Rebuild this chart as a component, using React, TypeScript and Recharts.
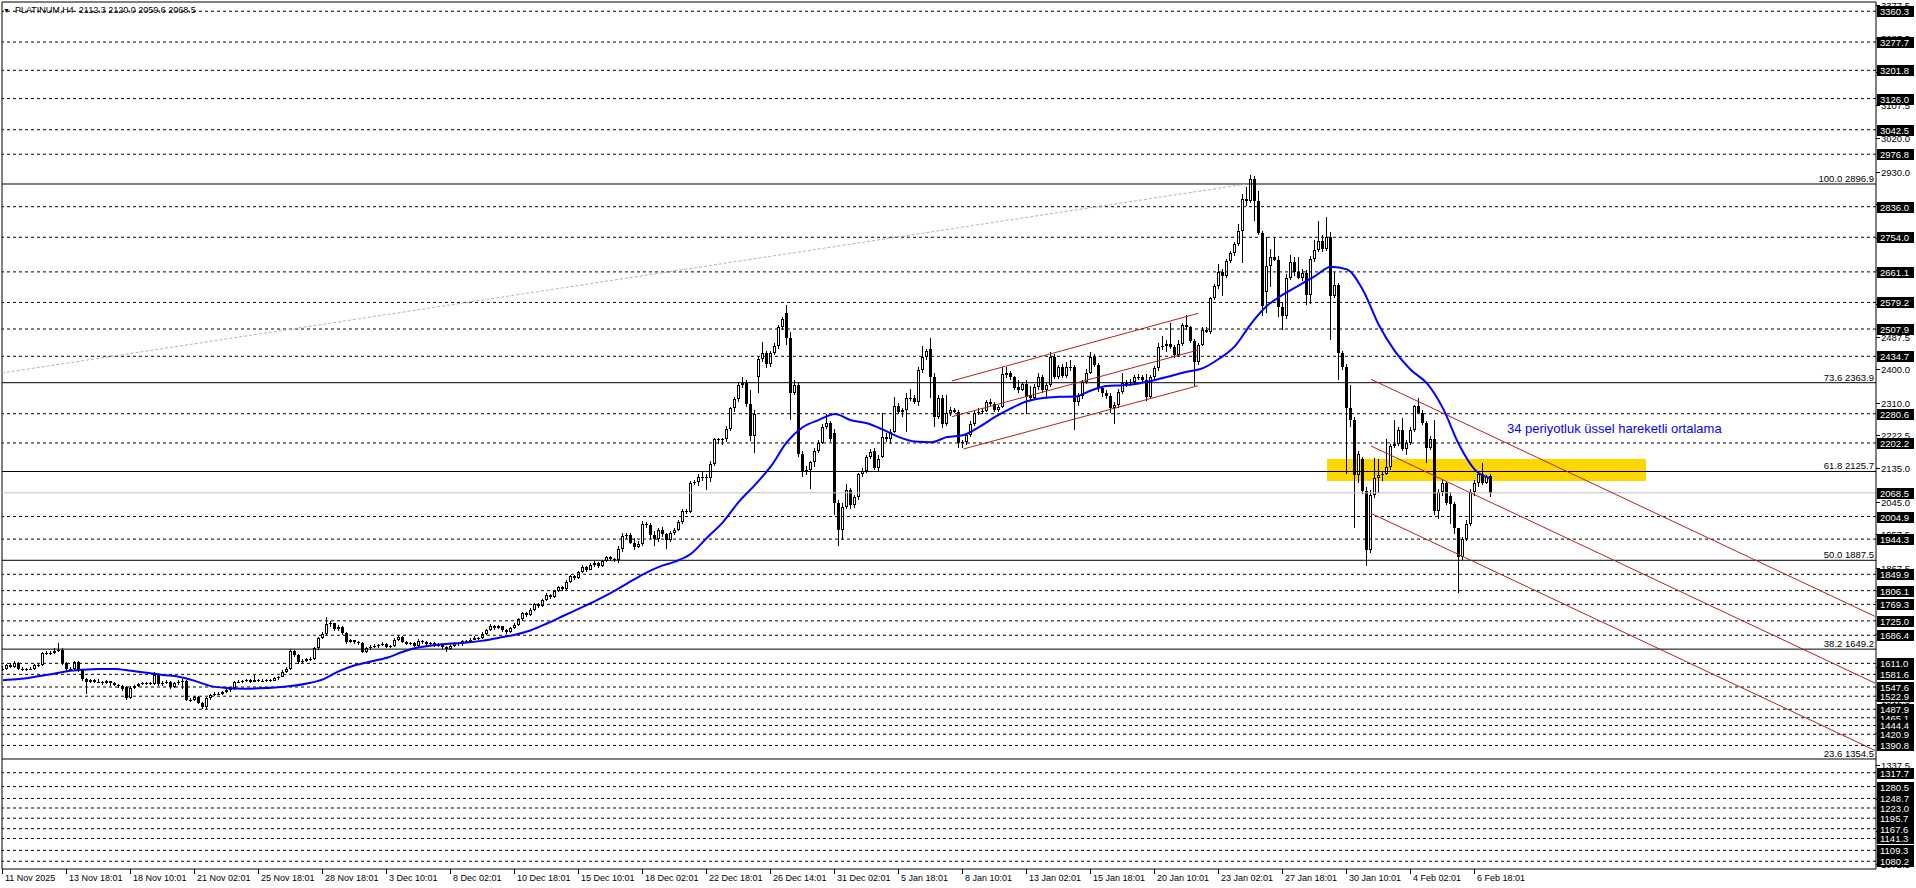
import React from "react";
import {
  ComposedChart,
  Bar,
  Line,
  XAxis,
  YAxis,
  ReferenceLine,
  ReferenceArea
} from "recharts";

const FONT = '"Liberation Sans", Arial, sans-serif';

// H4 candles [open, high, low, close], one per bar
const candlesNov = [
  [1594, 1603, 1590, 1597], [1597, 1610, 1595, 1606], [1606, 1612, 1598, 1602], [1602, 1618, 1600, 1613], [1613, 1615, 1594, 1597], // 0
  [1597, 1600, 1588, 1593], [1593, 1599, 1590, 1595], [1595, 1600, 1591, 1596], [1596, 1609, 1594, 1606], [1606, 1610, 1601, 1606], // 5
  [1606, 1642, 1604, 1638], [1638, 1644, 1633, 1638], [1638, 1645, 1634, 1640], [1640, 1652, 1637, 1644], [1644, 1665, 1640, 1648], // 10
  [1648, 1652, 1606, 1611], [1611, 1616, 1590, 1595], [1595, 1601, 1591, 1597], [1597, 1618, 1594, 1615], [1615, 1618, 1589, 1593], // 15
  [1593, 1596, 1564, 1568], [1568, 1572, 1530, 1562], [1562, 1570, 1558, 1566], [1566, 1569, 1558, 1562], [1562, 1568, 1557, 1562], // 20
  [1562, 1565, 1555, 1559], [1559, 1567, 1556, 1563], [1563, 1565, 1552, 1557], [1557, 1560, 1549, 1553], [1553, 1556, 1546, 1550], // 25
  [1550, 1553, 1538, 1541], [1548, 1551, 1514, 1517], [1517, 1550, 1515, 1546], [1546, 1553, 1543, 1550], [1550, 1558, 1547, 1555], // 30
  [1555, 1560, 1552, 1557], [1557, 1561, 1553, 1557], [1557, 1562, 1554, 1559], [1556, 1588, 1554, 1580], [1580, 1583, 1550, 1555], // 35
  [1555, 1563, 1550, 1559], [1559, 1566, 1556, 1562], [1562, 1565, 1544, 1548], [1548, 1562, 1546, 1559], [1559, 1566, 1552, 1562], // 40
  [1562, 1568, 1540, 1564], [1564, 1567, 1510, 1514], [1514, 1519, 1509, 1514], [1514, 1524, 1511, 1520], [1520, 1523, 1502, 1505], // 45
  [1505, 1507, 1489, 1493], [1493, 1520, 1489, 1517], [1517, 1529, 1514, 1526], [1526, 1533, 1522, 1530], [1530, 1534, 1525, 1530], // 50
  [1530, 1538, 1527, 1535], [1535, 1542, 1531, 1539], [1539, 1547, 1534, 1544], [1544, 1565, 1541, 1562], [1562, 1566, 1557, 1562], // 55
  [1562, 1567, 1558, 1564], [1564, 1569, 1560, 1566], [1566, 1568, 1558, 1562], [1562, 1580, 1560, 1566], [1566, 1569, 1561, 1564], // 60
  [1564, 1568, 1559, 1564], [1564, 1569, 1561, 1566], [1566, 1568, 1560, 1564], [1564, 1574, 1562, 1571], [1571, 1578, 1567, 1575], // 65
  [1575, 1592, 1572, 1589], [1589, 1601, 1586, 1597], [1597, 1650, 1595, 1645], [1645, 1648, 1628, 1633], [1633, 1637, 1611, 1615], // 70
  [1615, 1622, 1610, 1618], [1618, 1626, 1614, 1622], [1622, 1628, 1618, 1624], [1624, 1655, 1621, 1651], [1651, 1682, 1648, 1678], // 75
  [1678, 1695, 1675, 1691], [1691, 1736, 1688, 1716] // 80
];

const candlesDec = [
  [1716, 1724, 1708, 1718], [1718, 1720, 1698, 1702], [1702, 1714, 1699, 1709], [1709, 1712, 1689, 1693], [1693, 1696, 1665, 1669], // 82
  [1669, 1676, 1664, 1673], [1673, 1675, 1664, 1669], [1669, 1672, 1662, 1666], [1666, 1668, 1638, 1642], [1642, 1655, 1638, 1651], // 87
  [1651, 1660, 1647, 1656], [1656, 1662, 1652, 1657], [1657, 1664, 1653, 1660], [1660, 1667, 1656, 1663], [1663, 1665, 1651, 1656], // 92
  [1656, 1661, 1652, 1657], [1657, 1679, 1655, 1675], [1675, 1688, 1672, 1682], [1682, 1684, 1665, 1669], [1669, 1671, 1659, 1663], // 97
  [1663, 1669, 1660, 1665], [1665, 1667, 1653, 1657], [1657, 1676, 1654, 1672], [1672, 1675, 1663, 1668], [1668, 1671, 1658, 1662], // 102
  [1662, 1669, 1659, 1665], [1665, 1667, 1654, 1658], [1658, 1666, 1655, 1662], [1662, 1664, 1651, 1655], [1655, 1658, 1643, 1650], // 107
  [1650, 1662, 1646, 1658], [1658, 1669, 1655, 1665], [1665, 1668, 1658, 1662], [1662, 1674, 1659, 1670], [1670, 1673, 1664, 1668], // 112
  [1668, 1679, 1665, 1675], [1675, 1684, 1672, 1680], [1680, 1683, 1674, 1678], [1678, 1694, 1675, 1690], [1690, 1704, 1687, 1700], // 117
  [1700, 1716, 1697, 1712], [1712, 1715, 1701, 1705], [1705, 1714, 1702, 1710], [1710, 1712, 1696, 1700], [1700, 1703, 1690, 1695], // 122
  [1695, 1709, 1692, 1705], [1705, 1719, 1702, 1715], [1715, 1734, 1712, 1730], [1730, 1750, 1727, 1745], [1745, 1748, 1735, 1740], // 127
  [1740, 1759, 1737, 1755], [1755, 1774, 1752, 1770], [1770, 1773, 1760, 1765], [1765, 1784, 1762, 1780], [1780, 1799, 1777, 1795], // 132
  [1795, 1798, 1785, 1790], [1790, 1809, 1787, 1805], [1805, 1819, 1802, 1815], [1815, 1818, 1805, 1810], [1810, 1834, 1807, 1830], // 137
  [1830, 1849, 1827, 1845], [1845, 1848, 1834, 1840], [1840, 1859, 1837, 1855], [1855, 1874, 1852, 1870], [1870, 1873, 1856, 1862], // 142
  [1862, 1879, 1859, 1875], [1875, 1886, 1871, 1880], [1880, 1883, 1866, 1872], [1872, 1889, 1869, 1885], [1885, 1899, 1882, 1895], // 147
  [1895, 1898, 1884, 1890], [1890, 1894, 1882, 1888], [1888, 1925, 1880, 1919], [1919, 1960, 1910, 1953], [1953, 1962, 1945, 1955], // 152
  [1955, 1960, 1930, 1935], [1935, 1948, 1915, 1922], [1922, 1938, 1918, 1931], [1931, 1992, 1925, 1985], [1985, 1990, 1975, 1982], // 157
  [1982, 1988, 1945, 1955], [1955, 1965, 1925, 1944], [1944, 1975, 1938, 1969], [1969, 1978, 1950, 1958], [1958, 1962, 1920, 1942], // 162
  [1942, 1965, 1935, 1960], [1960, 1975, 1955, 1970], [1970, 1995, 1965, 1990], [1990, 2025, 1985, 2020], [2020, 2024, 2010, 2018], // 167
  [2018, 2100, 2015, 2096], [2096, 2103, 2090, 2097], [2097, 2118, 2085, 2112], [2112, 2125, 2100, 2112], [2112, 2118, 2075, 2108], // 172
  [2108, 2155, 2100, 2147], [2147, 2215, 2140, 2212], [2212, 2216, 2200, 2210], [2210, 2215, 2195, 2212], [2212, 2248, 2205, 2241], // 177
  [2241, 2300, 2235, 2295], [2295, 2326, 2285, 2319], [2319, 2365, 2312, 2358], [2358, 2380, 2350, 2364], [2364, 2372, 2300, 2308], // 182
  [2308, 2344, 2206, 2221], [2221, 2290, 2174, 2280], [2378, 2432, 2335, 2427], [2427, 2474, 2420, 2444], [2444, 2450, 2405, 2414], // 187
  [2414, 2450, 2408, 2443], [2443, 2470, 2438, 2462], [2462, 2520, 2455, 2514], [2514, 2540, 2505, 2534], [2552, 2572, 2465, 2485], // 192
  [2485, 2501, 2264, 2337], [2337, 2370, 2330, 2358], [2358, 2365, 2165, 2172], [2172, 2180, 2110, 2123], [2123, 2140, 2115, 2130], // 197
  [2130, 2155, 2080, 2150], [2150, 2190, 2140, 2181], [2181, 2210, 2175, 2203], [2203, 2252, 2198, 2246], [2246, 2280, 2240, 2255], // 202
  [2255, 2262, 2205, 2212], [2230, 2240, 2009, 2042], [2042, 2050, 1926, 1970], [1970, 2040, 1942, 2031], [2031, 2092, 2025, 2076], // 207
  [2076, 2082, 2025, 2035], [2035, 2062, 2028, 2056] // 212
];

const candlesJan = [
  [2056, 2122, 2050, 2118], [2118, 2135, 2110, 2128], [2128, 2170, 2122, 2165], [2165, 2185, 2158, 2179], [2181, 2190, 2130, 2134], // 214
  [2134, 2170, 2128, 2158], [2165, 2282, 2160, 2219], [2219, 2228, 2205, 2212], [2212, 2240, 2200, 2232], [2232, 2325, 2228, 2301], // 219
  [2301, 2310, 2280, 2286], [2286, 2295, 2270, 2290], [2290, 2335, 2230, 2324], [2324, 2348, 2315, 2322], [2322, 2330, 2305, 2313], // 224
  [2313, 2405, 2300, 2398], [2398, 2462, 2390, 2433], [2433, 2455, 2425, 2449], [2453, 2485, 2323, 2380], [2380, 2390, 2246, 2273], // 229
  [2273, 2330, 2265, 2324], [2324, 2330, 2241, 2253], [2253, 2330, 2248, 2282], [2282, 2298, 2275, 2290], [2290, 2295, 2282, 2286], // 234
  [2286, 2290, 2188, 2201], [2201, 2210, 2188, 2204], [2204, 2230, 2198, 2223], [2223, 2260, 2218, 2253], [2253, 2290, 2248, 2283], // 239
  [2283, 2295, 2275, 2286], [2286, 2295, 2280, 2289], [2289, 2318, 2285, 2311], [2311, 2320, 2300, 2307], [2307, 2312, 2285, 2290], // 244
  [2290, 2305, 2285, 2299], [2299, 2405, 2295, 2387], [2385, 2405, 2375, 2390], [2390, 2395, 2372, 2378], [2378, 2382, 2345, 2350], // 249
  [2352, 2372, 2338, 2344], [2344, 2365, 2340, 2360], [2360, 2372, 2282, 2325], [2330, 2356, 2315, 2322], [2322, 2360, 2318, 2353], // 254
  [2353, 2390, 2345, 2380], [2380, 2385, 2338, 2344], [2344, 2362, 2320, 2357], [2357, 2445, 2350, 2432], [2432, 2440, 2372, 2380], // 259
  [2380, 2412, 2375, 2407], [2407, 2415, 2378, 2382], [2382, 2420, 2378, 2407], [2407, 2425, 2395, 2405], [2405, 2412, 2237, 2313], // 264
  [2313, 2335, 2300, 2328], [2328, 2372, 2320, 2366], [2366, 2400, 2360, 2391], [2391, 2445, 2385, 2434], [2434, 2440, 2405, 2411], // 269
  [2411, 2418, 2340, 2349], [2349, 2355, 2325, 2335], [2335, 2345, 2320, 2328], [2328, 2335, 2282, 2295], [2295, 2312, 2253, 2304], // 274
  [2304, 2348, 2298, 2340], [2340, 2390, 2335, 2362], [2362, 2370, 2352, 2364], [2364, 2374, 2355, 2366], [2366, 2385, 2360, 2378], // 279
  [2378, 2388, 2372, 2380], [2380, 2385, 2365, 2371], [2371, 2388, 2316, 2326], [2326, 2385, 2320, 2380], [2380, 2410, 2375, 2402], // 284
  [2402, 2470, 2395, 2460], [2460, 2488, 2450, 2462], [2462, 2478, 2445, 2468], [2468, 2525, 2455, 2460], [2460, 2466, 2430, 2438], // 289
  [2438, 2478, 2432, 2469], [2469, 2525, 2462, 2518], [2518, 2545, 2505, 2512], [2512, 2515, 2470, 2477], [2477, 2480, 2355, 2420], // 294
  [2420, 2470, 2410, 2465], [2465, 2512, 2460, 2505], [2505, 2512, 2495, 2500], [2500, 2595, 2495, 2590], [2590, 2628, 2585, 2623], // 299
  [2623, 2682, 2615, 2662], [2662, 2668, 2595, 2650], [2650, 2696, 2645, 2691], [2691, 2718, 2685, 2711], [2711, 2742, 2705, 2736], // 304
  [2736, 2790, 2730, 2772], [2772, 2870, 2684, 2856], [2856, 2890, 2840, 2852], [2852, 2921, 2845, 2909], [2909, 2918, 2796, 2850], // 309
  [2850, 2878, 2760, 2765], [2765, 2770, 2541, 2570], [2608, 2754, 2550, 2677], [2677, 2722, 2621, 2700], [2700, 2754, 2690, 2693], // 314
  [2693, 2705, 2541, 2568], [2568, 2580, 2505, 2543], [2543, 2655, 2535, 2644], [2644, 2706, 2638, 2688], [2688, 2702, 2650, 2662], // 319
  [2662, 2700, 2640, 2644], [2644, 2670, 2638, 2657], [2657, 2665, 2572, 2599], [2599, 2705, 2577, 2695], [2695, 2748, 2690, 2721], // 324
  [2721, 2798, 2715, 2745], [2745, 2760, 2715, 2722], [2722, 2809, 2718, 2756], [2756, 2768, 2478, 2596], [2596, 2660, 2590, 2626], // 329
  [2626, 2630, 2371, 2443], [2443, 2450, 2398, 2407], [2407, 2415, 2121, 2295], [2295, 2358, 2245, 2265], [2265, 2272, 1973, 2116], // 334
  [2116, 2180, 2094, 2172] // 339
];

const candlesFeb = [
  [2160, 2165, 2065, 2074], [2074, 2085, 1872, 1915], [1915, 2075, 1905, 2062], [2062, 2163, 2055, 2107], [2107, 2160, 2070, 2116], // 340
  [2116, 2125, 2100, 2120], [2120, 2212, 2115, 2138], [2138, 2200, 2130, 2194], [2194, 2264, 2190, 2200], [2200, 2245, 2195, 2237], // 345
  [2237, 2268, 2180, 2185], [2185, 2210, 2170, 2203], [2203, 2245, 2198, 2237], [2237, 2305, 2232, 2301], [2301, 2322, 2280, 2282], // 350
  [2282, 2290, 2250, 2256], [2256, 2262, 2148, 2190], [2190, 2222, 2185, 2214], [2214, 2265, 2009, 2020], [2020, 2080, 2000, 2071], // 355
  [2071, 2105, 2060, 2094], [2094, 2100, 2035, 2040], [2060, 2070, 1985, 2038], [2038, 2045, 1960, 1973], [1973, 1975, 1800, 1895], // 360
  [1895, 1950, 1888, 1944], [1944, 1995, 1940, 1986], [1986, 2078, 1980, 2071], [2071, 2102, 2060, 2094], [2094, 2128, 2085, 2120], // 365
  [2120, 2148, 2090, 2096], [2096, 2115, 2090, 2110], [2112.3, 2120.0, 2059.6, 2068.5] // 370
];

// 34 EMA read every 4th bar (bar 0, 4, 8 ...)
const emaEvery4 = [
  1566, 1569, 1575, 1582, 1590, 1594, 1596, 1596, 1591, 1586,
  1580, 1575, 1564, 1550, 1545, 1543, 1544, 1546, 1550, 1557,
  1568, 1590, 1606, 1616, 1626, 1642, 1654, 1660, 1664, 1667,
  1672, 1680, 1688, 1700, 1718, 1738, 1758, 1778, 1800, 1825,
  1850, 1870, 1884, 1905, 1948, 1990, 2045, 2090, 2140, 2205,
  2245, 2264, 2280, 2263, 2255, 2238, 2218, 2206, 2204, 2218,
  2223, 2245, 2272, 2295, 2314, 2323, 2326, 2327, 2343, 2355,
  2357, 2362, 2371, 2382, 2393, 2403, 2428, 2462, 2522, 2570,
  2600, 2625, 2650, 2675, 2668, 2612, 2518, 2448, 2398, 2362,
  2295, 2198, 2130, 2107
];

const timeLabels = [
  "11 Nov 2025", "13 Nov 18:01", "18 Nov 10:01", "21 Nov 02:01", "25 Nov 18:01", "28 Nov 18:01",
  "3 Dec 10:01", "8 Dec 02:01", "10 Dec 18:01", "15 Dec 10:01", "18 Dec 02:01", "22 Dec 18:01",
  "26 Dec 14:01", "31 Dec 02:01", "5 Jan 18:01", "8 Jan 10:01", "13 Jan 02:01", "15 Jan 18:01",
  "20 Jan 10:01", "23 Jan 02:01", "27 Jan 18:01", "30 Jan 10:01", "4 Feb 02:01", "6 Feb 18:01"
];
const labelStep = 16;

// dashed horizontal levels (highlighted on the price scale)
const hLevels = [
  3360.3, 3277.7, 3201.8, 3126.0, 3042.5, 2976.8, 2836.0, 2754.0, 2661.1, 2579.2,
  2507.9, 2434.7, 2280.6, 2202.2, 2004.9, 1944.3, 1849.9, 1806.1, 1769.3, 1725.0,
  1686.4, 1611.0, 1581.6, 1547.6, 1522.9, 1487.9, 1465.1, 1444.4, 1420.9, 1390.8,
  1317.7, 1280.5, 1248.7, 1223.0, 1195.7, 1167.6, 1141.3, 1109.3, 1080.2
];
const scaleTicks = [
  3377.5, 3287.5, 3197.5, 3107.5, 3020.0, 2930.0, 2842.5, 2752.5, 2665.0, 2575.0,
  2487.5, 2400.0, 2310.0, 2222.5, 2135.0, 2045.0, 1957.5, 1867.5, 1777.5, 1690.0,
  1602.5, 1512.5, 1425.0, 1337.5, 1247.5, 1160.0, 1072.5
];
const bidPrice = 2068.5;

const fibPct = ["100.0", "73.6", "61.8", "50.0", "38.2", "23.6"];
const fibPrice = [2896.9, 2363.9, 2125.7, 1887.5, 1649.2, 1354.5];

// trend lines: [barFrom, priceFrom, barTo, priceTo]
const upChannel = [
  [237.2, 2368.5, 298.8, 2550.0],
  [237.2, 2272.7, 298.8, 2451.6],
  [240.1, 2186.0, 298.8, 2355.9]
];
const downChannel = [
  [342, 2373.0, 468, 1737.0],
  [342, 2194.1, 468, 1558.1],
  [342, 2013.6, 468, 1377.5]
];
const fibDiagonal = [-0.25, 2389.9, 310.9, 2896.9];
const zoneBox = [331, 410.75, 2100.2, 2159.2];

const yMin = 1059.4;
const yMax = 3385.1;
const xMin = -0.25;
const xMax = 468.25;

const candles = [...candlesNov, ...candlesDec, ...candlesJan, ...candlesFeb];
const data = candles.map(([o, h, l, c], i) => ({
  i,
  o,
  h,
  l,
  c,
  range: [l, h],
  ema: i % 4 === 0 ? emaEvery4[i / 4] : null
}));

const hiSet = new Set([...hLevels, bidPrice]);

function Candle(props: any) {
  const { x, y, width, height, payload } = props;
  const { o, h, l, c } = payload;
  const cx = Math.round(x + width / 2) - 1;
  const k = h === l ? 0 : height / (h - l);
  const yO = y + (h - o) * k;
  const yC = y + (h - c) * k;
  const top = Math.round(Math.min(yO, yC));
  const bot = Math.round(Math.max(yO, yC));
  const bh = Math.max(1, bot - top);
  const up = c >= o;
  return (
    <g>
      <rect x={cx} y={Math.round(y)} width={1} height={Math.max(1, Math.round(height))} fill="#000" />
      <rect x={cx - 1} y={top} width={3} height={bh} fill="#000" />
      {up && bh > 2 && <rect x={cx} y={top + 1} width={1} height={bh - 2} fill="#fff" />}
    </g>
  );
}

function TimeTick(props: any) {
  const { x, y, payload } = props;
  const text = timeLabels[Math.round(payload.value / labelStep)];
  const px = Math.round(x) - 1;
  return (
    <g>
      <rect x={px} y={y} width={1} height={5} fill="#000" />
      <text x={px + 3} y={y + 12} fontSize={9} fontFamily={FONT} fill="#000">
        {text}
      </text>
    </g>
  );
}

function PriceTick(props: any) {
  const { x, y, payload } = props;
  const v = payload.value;
  const yy = Math.round(y);
  if (hiSet.has(v)) {
    return (
      <g>
        <rect x={x + 1} y={yy - 5} width={37} height={11} fill="#000" />
        <text x={x + 4} y={yy + 4} fontSize={9.5} fontFamily={FONT} fill="#fff">
          {v.toFixed(1)}
        </text>
      </g>
    );
  }
  return (
    <g>
      <rect x={x} y={yy} width={4} height={1} fill="#000" />
      <text x={x + 5} y={yy + 4} fontSize={9.5} fontFamily={FONT} fill="#000">
        {v.toFixed(1)}
      </text>
    </g>
  );
}

export default function App() {
  return (
    <div
      style={{
        position: "fixed",
        left: 0,
        top: 0,
        width: 1916,
        height: 888,
        background: "#fff",
        overflow: "hidden"
      }}
    >
      <ComposedChart
        width={1916}
        height={888}
        data={data}
        margin={{ top: 2, right: 0, left: 2, bottom: 0 }}
      >
        <ReferenceArea
          x1={zoneBox[0]}
          x2={zoneBox[1]}
          y1={zoneBox[2]}
          y2={zoneBox[3]}
          fill="#ffd700"
          fillOpacity={1}
          stroke="none"
        />
        <XAxis
          dataKey="i"
          type="number"
          domain={[xMin, xMax]}
          allowDataOverflow
          ticks={timeLabels.map((_, k) => k * labelStep)}
          interval={0}
          tick={<TimeTick />}
          tickSize={0}
          tickMargin={0}
          tickLine={false}
          axisLine={{ stroke: "#000" }}
          height={19}
        />
        <YAxis
          orientation="right"
          type="number"
          domain={[yMin, yMax]}
          allowDataOverflow
          ticks={[...scaleTicks, ...hLevels, bidPrice]}
          interval={0}
          tick={<PriceTick />}
          tickSize={0}
          tickMargin={0}
          tickLine={false}
          axisLine={{ stroke: "#000" }}
          width={40}
        />

        <ReferenceLine x={xMin} stroke="#000" />
        <ReferenceLine y={yMax} stroke="#000" />

        {hLevels.map((p) => (
          <ReferenceLine key={"h" + p} y={p} stroke="#000" strokeDasharray="3 3" />
        ))}
        <ReferenceLine y={bidPrice} stroke="#c0c0c0" />
        {fibPrice.map((p, k) => (
          <ReferenceLine
            key={"f" + p}
            y={p}
            stroke="#000"
            label={{
              value: `${fibPct[k]} ${p.toFixed(1)}`,
              position: "insideBottomRight",
              offset: 2,
              fill: "#000",
              fontSize: 9.5,
              fontFamily: FONT
            }}
          />
        ))}

        <ReferenceLine
          segment={[
            { x: fibDiagonal[0], y: fibDiagonal[1] },
            { x: fibDiagonal[2], y: fibDiagonal[3] }
          ]}
          stroke="#b4b4b4"
          strokeDasharray="3 2"
        />
        {[...upChannel, ...downChannel].map((s, k) => (
          <ReferenceLine
            key={"t" + k}
            segment={[
              { x: s[0], y: s[1] },
              { x: s[2], y: s[3] }
            ]}
            stroke="#b22222"
          />
        ))}

        <Bar
          dataKey="range"
          barSize={3}
          isAnimationActive={false}
          shape={(p: any) => <Candle {...p} />}
        />
        <Line
          dataKey="ema"
          type="monotone"
          stroke="#0000ff"
          strokeWidth={2}
          dot={false}
          connectNulls
          isAnimationActive={false}
        />
      </ComposedChart>

      <div
        style={{
          position: "absolute",
          left: 3,
          top: 5,
          fontFamily: FONT,
          fontSize: 9,
          whiteSpace: "pre",
          color: "#000"
        }}
      >
        <span style={{ fontSize: 7 }}>▼</span>
        {"  PLATINUM,H4  2112.3 2120.0 2059.6 2068.5"}
      </div>
      <div
        style={{
          position: "absolute",
          left: 1507,
          top: 421,
          fontFamily: FONT,
          fontSize: 13,
          whiteSpace: "pre",
          color: "#0000ff"
        }}
      >
        34 periyotluk üssel hareketli ortalama
      </div>
    </div>
  );
}
